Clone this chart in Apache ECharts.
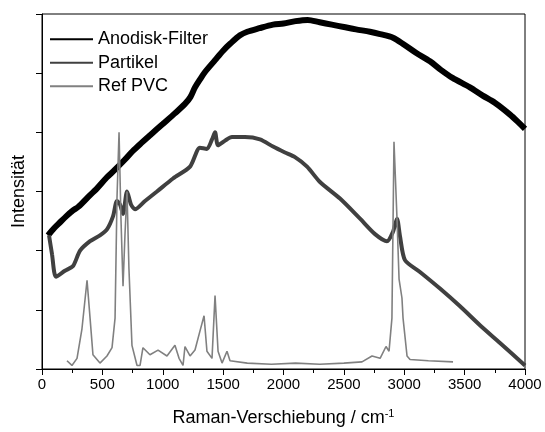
<!DOCTYPE html>
<html>
<head>
<meta charset="utf-8">
<script src="https://cdn.jsdelivr.net/npm/echarts@6/dist/echarts.min.js"></script>
<style>
  html, body { margin: 0; padding: 0; background: #fff; }
  #chart { width: 545px; height: 432px; }
</style>
</head>
<body>
<div id="chart"></div>
<script>
// Raman-Spektren, Intensitaet in willkuerlichen Einheiten (0..3)
var anodiskX = [50,100,150,200,257,300,398,450,538,600,687,750,812,900,1000,1100,1184,1230,1267,1310,1350,1433,1500,1560,1640,1700,1800,1913,2000,2100,2200,2300,2400,2500,2600,2716,2800,2907,3000,3100,3213,3300,3400,3544,3650,3750,3876,3950,4000];
var anodiskY = [1.13,1.19,1.24,1.29,1.34,1.37,1.47,1.52,1.62,1.68,1.77,1.84,1.90,1.98,2.07,2.16,2.24,2.30,2.38,2.45,2.51,2.61,2.69,2.75,2.82,2.85,2.88,2.91,2.92,2.94,2.95,2.93,2.91,2.89,2.87,2.85,2.83,2.80,2.74,2.67,2.60,2.53,2.46,2.38,2.31,2.25,2.15,2.08,2.03];

var partikelX = [58,83,116,190,257,315,398,480,538,588,621,646,671,704,737,770,853,952,1085,1226,1308,1366,1408,1433,1458,1516,1573,1681,1805,1913,2012,2095,2195,2302,2468,2634,2758,2857,2907,2940,2965,3006,3130,3296,3462,3627,3793,4000];
var partikelY = [1.13,0.97,0.78,0.83,0.87,1.00,1.08,1.13,1.18,1.29,1.42,1.39,1.31,1.50,1.39,1.35,1.42,1.50,1.61,1.71,1.87,1.86,1.94,2.00,1.89,1.93,1.96,1.96,1.94,1.88,1.83,1.79,1.71,1.58,1.44,1.27,1.14,1.08,1.16,1.27,1.12,0.92,0.82,0.68,0.53,0.37,0.22,0.03];

var pvcX = [207,248,290,331,373,398,422,480,538,580,605,621,638,654,671,687,704,720,745,787,812,836,894,961,1035,1101,1135,1168,1184,1226,1267,1308,1342,1366,1408,1433,1458,1491,1532,1557,1700,1900,2100,2300,2500,2650,2733,2800,2849,2874,2898,2915,2940,2957,2981,2990,3023,3048,3200,3404];
var pvcY = [0.07,0.03,0.09,0.34,0.75,0.43,0.12,0.05,0.11,0.18,0.43,1.44,2.00,1.27,0.70,1.13,1.50,0.85,0.20,0.03,0.03,0.18,0.12,0.16,0.11,0.20,0.09,0.03,0.19,0.11,0.16,0.32,0.45,0.15,0.09,0.62,0.15,0.05,0.15,0.07,0.05,0.04,0.05,0.04,0.05,0.06,0.11,0.09,0.19,0.15,0.43,1.92,1.27,0.76,0.60,0.43,0.11,0.08,0.07,0.06];

var xTicks = [0,500,1000,1500,2000,2500,3000,3500,4000];

function pairs(xs, ys) {
    var out = [];
    for (var i = 0; i < xs.length; i++) out.push([xs[i], ys[i]]);
    return out;
}

var font = 'Liberation Sans';
var myChart = echarts.init(document.getElementById('chart'), null, {renderer: 'canvas'});

var option = {
    animation: false,
    backgroundColor: '#fff',
    grid: {
        left: 42, right: 20, top: 14, bottom: 61,
        show: true, borderColor: '#000', borderWidth: 1
    },
    legend: {
        orient: 'vertical',
        left: 45,
        top: 23,
        icon: 'rect',
        itemWidth: 43,
        itemHeight: 2,
        itemGap: 1,
        textStyle: {fontFamily: font, fontSize: 18, color: '#000', lineHeight: 22.5},
        data: ['Anodisk-Filter', 'Partikel', 'Ref PVC']
    },
    xAxis: {
        type: 'value',
        min: 0, max: 4000, interval: 500,
        name: 'Raman-Verschiebung / cm{sup|-1}',
        nameLocation: 'middle',
        nameGap: 39,
        nameTextStyle: {
            fontFamily: font, fontSize: 18, color: '#000',
            rich: {sup: {fontFamily: font, fontSize: 11, color: '#000', padding: [0, 0, 9, 0]}}
        },
        axisLine: {lineStyle: {color: '#000', width: 1}},
        axisTick: {show: true, inside: false, length: 6, lineStyle: {color: '#000'}},
        minorTick: {show: true, splitNumber: 2, length: 4, lineStyle: {color: '#000'}},
        axisLabel: {fontFamily: font, fontSize: 15, color: '#000', margin: 8,
            formatter: function (v) { return xTicks.indexOf(v) >= 0 ? String(v) : ''; }},
        splitLine: {show: false}
    },
    yAxis: {
        type: 'value',
        min: 0, max: 3, interval: 0.5,
        name: 'Intensität',
        nameLocation: 'middle',
        nameGap: 14,
        nameTextStyle: {fontFamily: font, fontSize: 18, color: '#000'},
        axisLine: {show: true, lineStyle: {color: '#000', width: 1}},
        axisTick: {show: true, inside: false, length: 6, lineStyle: {color: '#000'}},
        axisLabel: {show: false},
        splitLine: {show: false}
    },
    series: [
        {
            name: 'Anodisk-Filter', type: 'line', showSymbol: false, smooth: 0.3,
            itemStyle: {color: '#000'},
            lineStyle: {color: '#000', width: 6},
            data: pairs(anodiskX, anodiskY)
        },
        {
            name: 'Partikel', type: 'line', showSymbol: false, smooth: 0.25,
            itemStyle: {color: '#404040'},
            lineStyle: {color: '#404040', width: 4},
            data: pairs(partikelX, partikelY)
        },
        {
            name: 'Ref PVC', type: 'line', showSymbol: false,
            itemStyle: {color: '#808080'},
            lineStyle: {color: '#808080', width: 1.6},
            data: pairs(pvcX, pvcY)
        }
    ]
};
myChart.setOption(option);
</script>
</body>
</html>
